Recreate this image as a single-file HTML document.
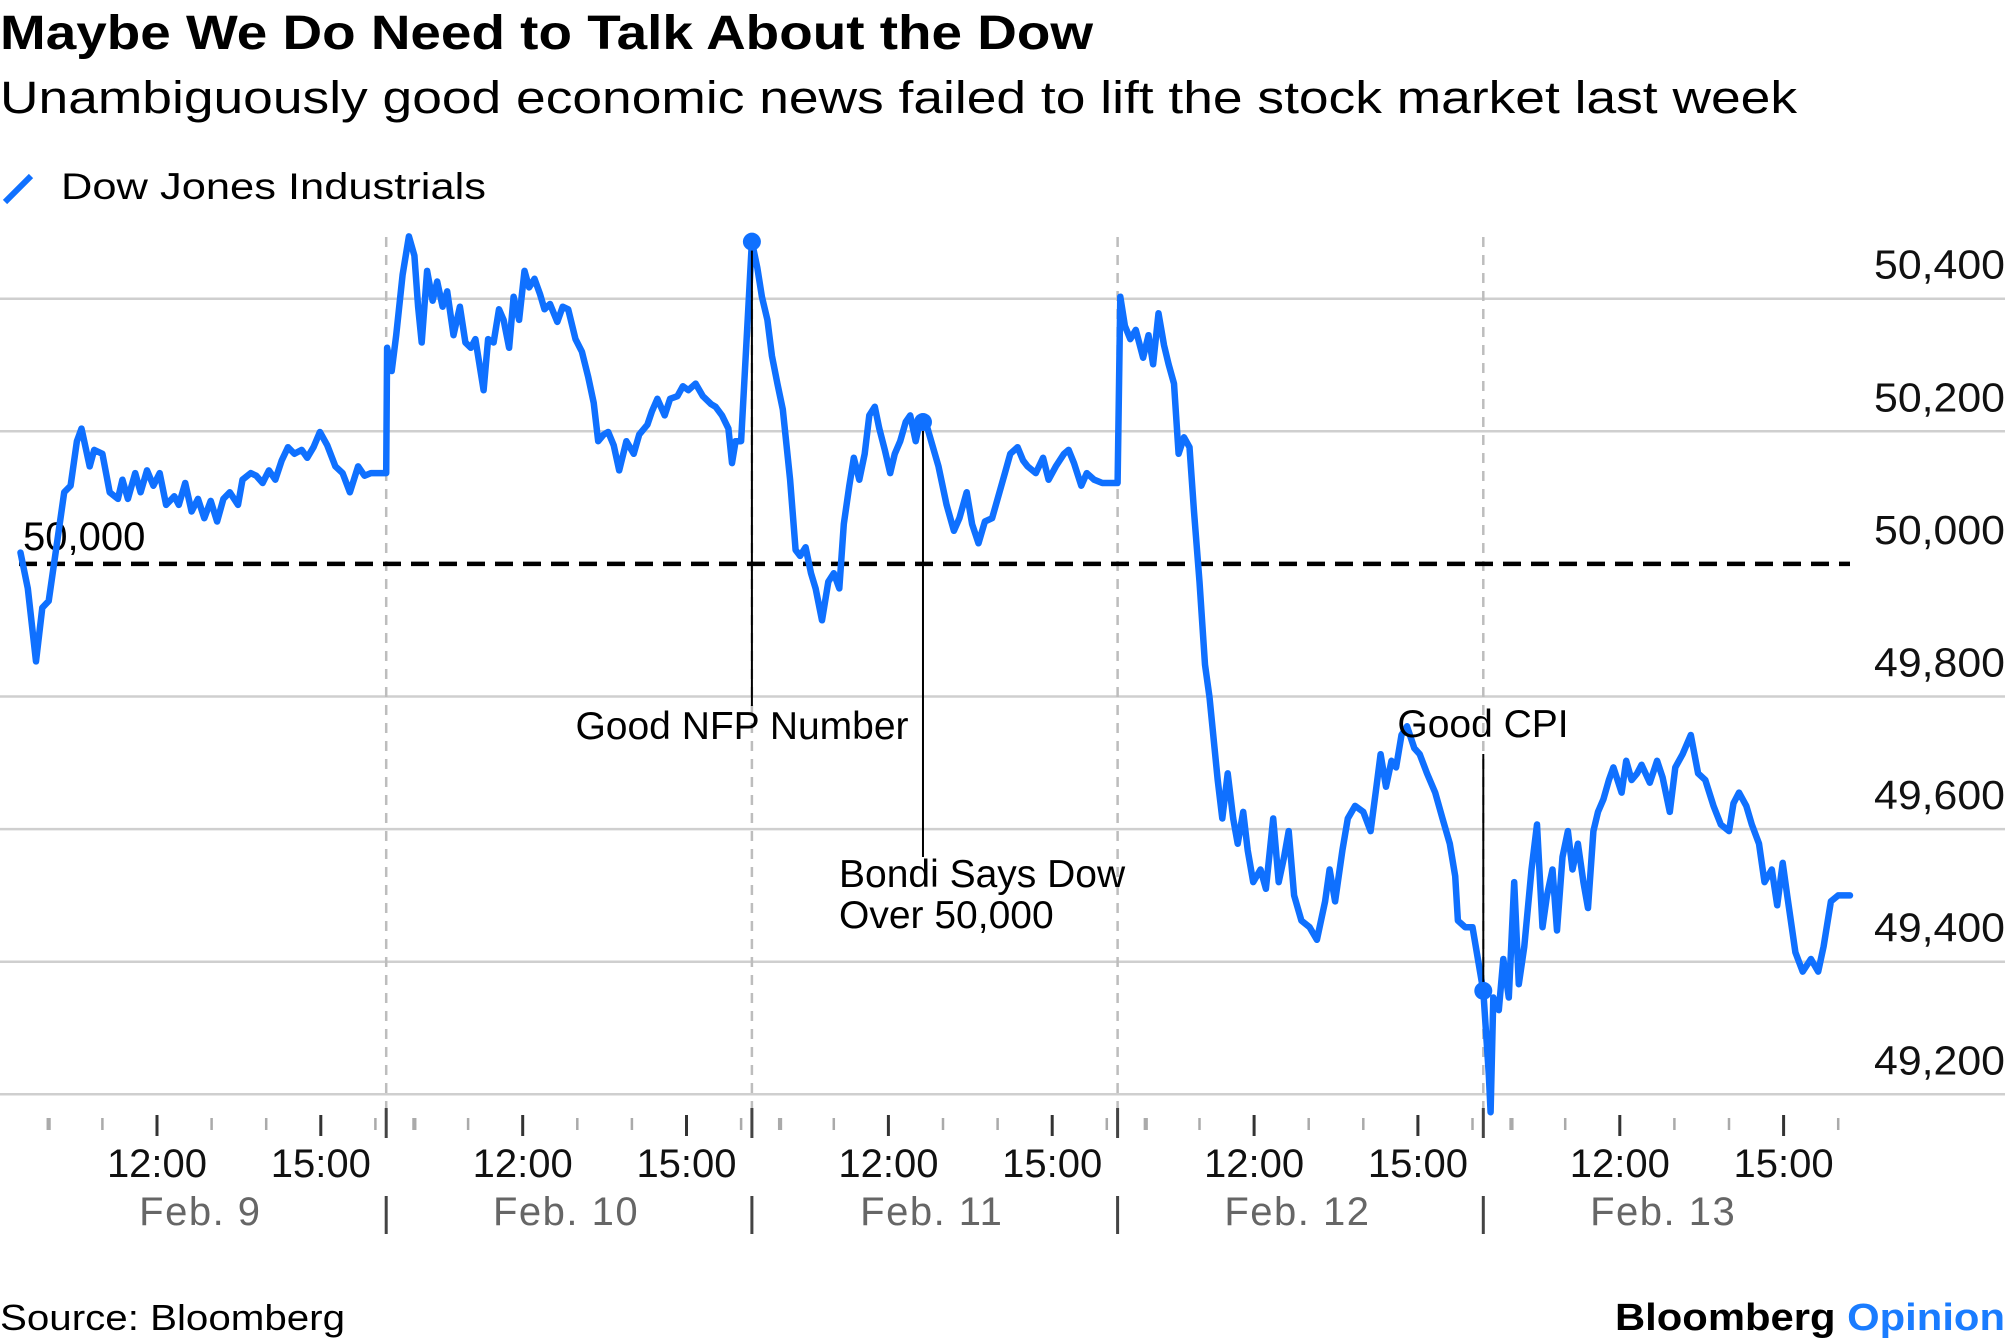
<!DOCTYPE html>
<html><head><meta charset="utf-8"><style>
html,body{margin:0;padding:0;background:#fff;}
svg{display:block;font-family:"Liberation Sans",sans-serif;}
</style></head><body>
<svg id="chart" width="2005" height="1344" viewBox="0 0 2005 1344">
<text x="0" y="49" font-size="48" font-weight="bold" textLength="1093" lengthAdjust="spacingAndGlyphs">Maybe We Do Need to Talk About the Dow</text>
<text x="0" y="113" font-size="45" textLength="1797" lengthAdjust="spacingAndGlyphs">Unambiguously good economic news failed to lift the stock market last week</text>
<g>
<line x1="5" y1="202" x2="31" y2="176" stroke="#0f70ff" stroke-width="6"/>
<text x="61" y="199" font-size="37" textLength="425" lengthAdjust="spacingAndGlyphs">Dow Jones Industrials</text>
</g>
<g id="grid"></g>
<g id="vsep"></g>
<g id="yaxis"></g>
<g id="xaxis"></g>
<g id="ref"></g>
<g id="series"></g>
<g id="annot"></g>
<text x="0" y="1330" font-size="36" textLength="345" lengthAdjust="spacingAndGlyphs">Source: Bloomberg</text>
<text x="2005" y="1330" font-size="38" font-weight="bold" text-anchor="end" textLength="390" lengthAdjust="spacingAndGlyphs">Bloomberg <tspan fill="#1a7cff">Opinion</tspan></text>
</svg>
<script>
const yTicks=[49200,49400,49600,49800,50000,50200,50400];
const yTickLabels=["49,200","49,400","49,600","49,800","50,000","50,200","50,400"];
const dayLabels=["Feb. 9","Feb. 10","Feb. 11","Feb. 12","Feb. 13"];
const hourTicks=[10,11,12,13,14,15,16];
const majorHours=["12:00","15:00"];
const refLevel=50000;
const mins9=[0,8,17,24,31,39,48,55,62,67,76,81,90,98,107,112,118,126,132,139,146,153,160,169,174,181,188,195,202,209,216,223,230,239,244,253,259,266,273,280,287,294,301,309,315,322,329,337,346,354,362,371,378,385,390];
const vals9=[50017,49963,49853,49934,49944,50021,50108,50118,50185,50204,50147,50172,50166,50108,50098,50127,50098,50137,50108,50141,50118,50137,50089,50102,50089,50122,50079,50098,50069,50095,50064,50098,50108,50089,50127,50137,50133,50122,50141,50127,50156,50176,50166,50172,50160,50176,50199,50179,50147,50137,50108,50147,50133,50137,50137];
const mins10=[0,1,6,11,18,25,31,35,39,45,51,56,62,67,74,81,87,93,98,107,112,118,124,129,135,140,146,152,157,163,169,174,180,188,194,200,208,215,222,228,233,239,244,250,256,264,272,278,287,292,298,306,312,320,326,332,340,348,357,362,369,376,380,384,387,390];
const vals10=[50137,50326,50291,50345,50436,50494,50465,50388,50334,50442,50397,50426,50388,50411,50345,50388,50334,50326,50339,50262,50339,50334,50384,50368,50326,50403,50368,50442,50417,50430,50407,50384,50392,50365,50388,50384,50339,50320,50282,50243,50185,50195,50199,50179,50141,50185,50166,50195,50210,50230,50249,50224,50249,50253,50268,50262,50272,50253,50241,50237,50224,50204,50152,50185,50185,50185];
const mins11=[0,6,11,17,22,28,34,42,48,53,59,65,70,77,84,90,96,101,107,112,118,124,129,135,140,146,152,157,163,169,174,180,185,191,197,205,214,222,228,236,242,249,256,264,270,278,284,292,298,303,312,320,326,334,343,348,354,362,368,376,385,390];
const vals11=[50486,50446,50403,50368,50314,50272,50233,50127,50021,50012,50025,49986,49963,49915,49973,49986,49963,50060,50118,50160,50127,50166,50224,50237,50204,50172,50137,50166,50185,50214,50224,50185,50218,50214,50185,50147,50089,50050,50069,50108,50060,50031,50064,50069,50098,50137,50166,50176,50156,50147,50137,50160,50127,50147,50166,50172,50152,50118,50137,50127,50122,50122];
const mins12=[0,3,8,14,20,28,34,39,45,51,56,62,67,73,79,84,90,96,101,110,115,121,127,132,138,143,149,157,163,171,177,183,188,194,202,211,219,228,233,239,247,253,261,270,278,284,289,295,301,306,312,318,326,332,340,349,357,365,371,374,382,388,390];
const vals12=[50122,50403,50359,50339,50353,50311,50345,50301,50378,50330,50301,50272,50166,50191,50176,50079,49973,49848,49799,49674,49616,49684,49616,49578,49626,49568,49520,49539,49510,49616,49520,49558,49597,49500,49462,49452,49433,49491,49539,49491,49568,49616,49635,49626,49597,49659,49713,49664,49703,49693,49742,49755,49722,49713,49684,49655,49616,49578,49529,49462,49452,49452,49452];
const mins13=[0,6,8,11,17,22,28,34,39,45,53,59,65,70,76,81,87,93,98,104,110,115,121,126,132,138,143,152,157,163,169,174,183,191,197,205,211,219,228,236,244,253,261,270,275,281,289,295,303,309,317,323,329,334,343,351,360,368,374,382,390,403];
const vals13=[49356,49230,49173,49346,49327,49404,49346,49520,49366,49423,49539,49607,49452,49500,49539,49447,49558,49597,49539,49578,49520,49481,49597,49626,49645,49674,49693,49655,49703,49674,49684,49697,49670,49703,49678,49626,49693,49713,49742,49684,49674,49635,49607,49597,49639,49655,49635,49607,49578,49520,49539,49485,49549,49500,49414,49385,49404,49385,49423,49491,49500,49500];
const annotNames=["Good NFP Number","Bondi Says Dow|Over 50,000","Good CPI"];
const annotDay=[2,2,4];
const annotMin=[0,188,0];
const annotVal=[50486,50214,49356];

const NS="http://www.w3.org/2000/svg";
const X0=20.5, DAYW=365.7, PPM=0.910;
const xPos=(d,m)=>X0+d*DAYW+m*PPM;
const yPos=v=>563.9-(v-refLevel)*(132.6/200);
function mk(tag,attrs,parent){const e=document.createElementNS(NS,tag);for(const k in attrs)e.setAttribute(k,attrs[k]);parent.appendChild(e);return e;}

const grid=document.getElementById('grid'),yaxis=document.getElementById('yaxis');
yTicks.forEach((v,i)=>{
  if(v!==refLevel){const l=mk('line',{x1:0,x2:2005,y1:yPos(v),y2:yPos(v),stroke:'#cfcfcf','stroke-width':2.5},grid);
  
  }
  const t=mk('text',{x:2005,y:yPos(v)-20,'font-size':41,'text-anchor':'end',fill:'#111',textLength:131,lengthAdjust:'spacingAndGlyphs'},yaxis);
  t.textContent=yTickLabels[i];
  
  
});
const vsep=document.getElementById('vsep'),xaxis=document.getElementById('xaxis');
for(let d=1;d<dayLabels.length;d++){
  const x=X0+d*DAYW;
  const l=mk('line',{x1:x,x2:x,y1:237,y2:1110,stroke:'#bdbdbd','stroke-width':2.5,'stroke-dasharray':'10 8'},vsep);
  
  
  const t=mk('line',{x1:x,x2:x,y1:1108,y2:1138,stroke:'#444','stroke-width':3},xaxis);
  
  
  const b=mk('line',{x1:x,x2:x,y1:1196,y2:1234,stroke:'#444','stroke-width':3},xaxis);
  
  
}
dayLabels.forEach((lab,d)=>{
  hourTicks.forEach(h=>{
    const x=xPos(d,(h-9.5)*60);const major=(h===12||h===15);
    const t=mk('line',{x1:x,x2:x,y1:major?1115:1118,y2:major?1136:1130,stroke:major?'#333':'#aaa','stroke-width':major?3:2.5},xaxis);
    
    
    if(major){const tl=mk('text',{x:x,y:1177,'font-size':40,'text-anchor':'middle',fill:'#111'},xaxis);
      tl.textContent=majorHours[h===12?0:1];
      
      }
  });
  const m=mk('line',{x1:xPos(d,0)+29,x2:xPos(d,0)+29,y1:1118,y2:1130,stroke:'#aaa','stroke-width':2.5},xaxis);
  
  
  const dl=mk('text',{x:X0+d*DAYW+DAYW/2-3,y:1225,'font-size':40,'text-anchor':'middle',fill:'#666','letter-spacing':'1.5'},xaxis);
  dl.textContent=lab;
  
  
});
const ref=document.getElementById('ref');
const rl=mk('line',{x1:19,x2:1850,y1:yPos(refLevel),y2:yPos(refLevel),stroke:'#000','stroke-width':4.5,'stroke-dasharray':'18 10'},ref);


const rt=mk('text',{x:23,y:yPos(refLevel)-14,'font-size':40,fill:'#000'},ref);
rt.textContent='50,000';



const days=[[mins9,vals9],[mins10,vals10],[mins11,vals11],[mins12,vals12],[mins13,vals13]];
let pts=[];
days.forEach(([ms,vs],d)=>ms.forEach((m,i)=>pts.push(xPos(d,m).toFixed(1)+','+yPos(vs[i]).toFixed(1))));
const series=document.getElementById('series');
const pl=mk('polyline',{points:pts.join(' '),fill:'none',stroke:'#0f70ff','stroke-width':6.5,'stroke-linejoin':'round','stroke-linecap':'round'},series);



const annot=document.getElementById('annot');
const labelPos=[{x:742,y:739,anchor:'middle',lineEnd:706},{x:839,y:887,anchor:'start',lineEnd:857},{x:1483,y:737,anchor:'middle',lineStart:754,lineEnd:991}];
annotNames.forEach((name,i)=>{
  const x=xPos(annotDay[i],annotMin[i]),y=yPos(annotVal[i]);const p=labelPos[i];
  const y1=p.lineStart!==undefined?p.lineStart:y, y2=p.lineStart!==undefined?y:p.lineEnd;
  const ln=mk('line',{x1:x,x2:x,y1:y1,y2:y2,stroke:'#000','stroke-width':2},annot);
  
  
  const c=mk('circle',{cx:x,cy:y,r:9,fill:'#0f70ff'},annot);
  
  
  name.split('|').forEach((s,k)=>{
    const t=mk('text',{x:p.x,y:p.y+k*41,'font-size':39,'text-anchor':p.anchor,fill:'#000'},annot);
    t.textContent=s;
    
    
  });
});
</script>
</body></html>
